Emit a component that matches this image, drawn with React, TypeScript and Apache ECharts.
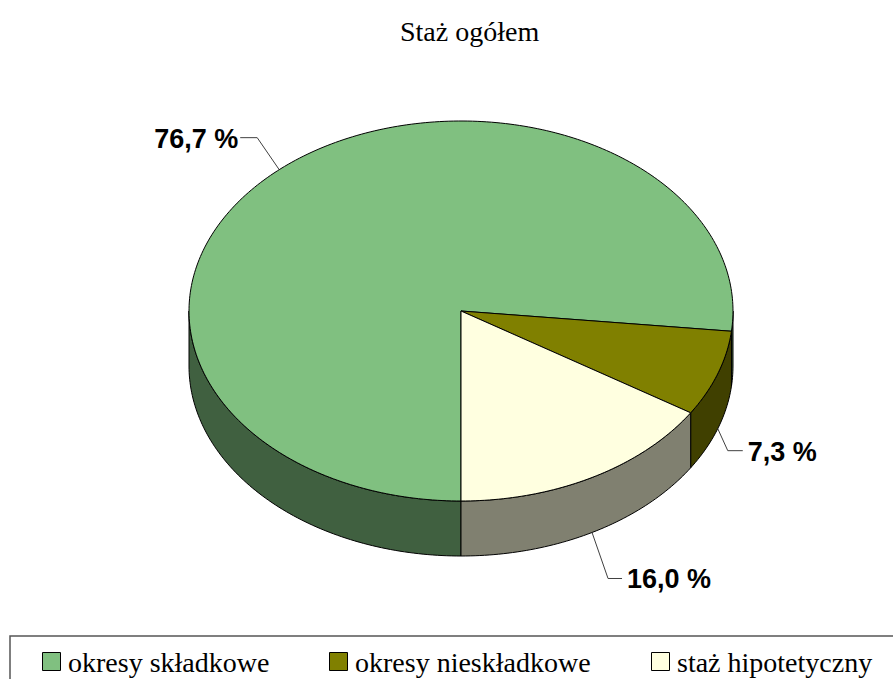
import React, { useEffect, useRef } from "react";
import * as echarts from "echarts";

const titleText = "Staż ogółem";
const categories = ["okresy składkowe", "okresy nieskładkowe", "staż hipotetyczny"];
const shares = [76.7, 7.3, 16.0];
const shareLabels = ["76,7 %", "7,3 %", "16,0 %"];

const topColors = ["#80c080", "#808000", "#ffffe0"];
const sideColors = ["#406040", "#404000", "#808070"];

const SERIF = "Liberation Serif";
const SANS = "Liberation Sans";

// layout
const CX = 461;
const CY = 311;
const RX = 272;
const RY = 190;
const DEPTH = 55;
const START_DEG = 180;
const legendIconX = [42, 329, 651];
// label leader offsets: [elbow dx, elbow dy, horizontal length]
const labelOffsets: number[][] = [
  [-22, -32, -17],
  [10, 22, 15],
  [16, 46, 14],
];

function pt(deg: number, dz: number): number[] {
  const r = (deg * Math.PI) / 180;
  return [CX + RX * Math.sin(r), CY - RY * Math.cos(r) + dz];
}

function arc(a: number, b: number, dz: number): number[][] {
  const pts: number[][] = [];
  const n = Math.max(2, Math.ceil(Math.abs(b - a)));
  for (let i = 0; i <= n; i++) pts.push(pt(a + ((b - a) * i) / n, dz));
  return pts;
}

function makeRender(idx: number) {
  return (params: any, api: any) => {
    const total = shares.reduce((s, v) => s + v, 0);
    let before = 0;
    for (let i = 0; i < idx; i++) before += shares[i];
    const v = api.value(0) as number;
    const a0 = START_DEG + (before / total) * 360;
    const a1 = a0 + (v / total) * 360;
    const children: any[] = [];
    const fronts = [
      [90, 270],
      [450, 630],
    ];
    for (const [f0, f1] of fronts) {
      const s = Math.max(a0, f0);
      const e = Math.min(a1, f1);
      if (e > s) {
        const pts = arc(s, e, 0).concat(arc(e, s, DEPTH));
        children.push({
          type: "polygon",
          shape: { points: pts },
          style: { fill: sideColors[idx], stroke: "#000", lineWidth: 1, lineJoin: "round" },
        });
      }
    }
    const top = [[CX, CY]].concat(arc(a0, a1, 0));
    children.push({
      type: "polygon",
      shape: { points: top },
      style: { fill: topColors[idx], stroke: "#000", lineWidth: 1, lineJoin: "round" },
    });
    const mid = (a0 + a1) / 2;
    const m = ((mid % 360) + 360) % 360;
    const front = m > 90 && m < 270;
    const anchor = pt(mid, front ? DEPTH : 0);
    const [dx, dy, hl] = labelOffsets[idx];
    const elbow = [anchor[0] + dx, anchor[1] + dy];
    const end = [elbow[0] + hl, elbow[1]];
    children.push({
      type: "polyline",
      shape: { points: [anchor, elbow, end] },
      style: { stroke: "#404040", lineWidth: 1, fill: "none" },
    });
    children.push({
      type: "text",
      style: {
        text: shareLabels[idx],
        x: end[0] + (hl < 0 ? -2 : 5),
        y: end[1] + 1,
        align: hl < 0 ? "right" : "left",
        verticalAlign: "middle",
        fontFamily: SANS,
        fontWeight: "bold",
        fontSize: 27,
        fill: "#000",
      },
    });
    return { type: "group", children };
  };
}

export default function App() {
  const ref = useRef<HTMLDivElement>(null);
  useEffect(() => {
    if (!ref.current) return;
    const chart = echarts.init(ref.current, null, { renderer: "svg" });
    const legendGraphics: any[] = [];
    categories.forEach((name, i) => {
      legendGraphics.push({
        type: "rect",
        shape: { x: legendIconX[i] + 0.5, y: 652.5, width: 18, height: 18 },
        style: { fill: topColors[i], stroke: "#000", lineWidth: 1 },
        silent: true,
      });
      legendGraphics.push({
        type: "text",
        x: legendIconX[i] + 26,
        y: 662,
        style: {
          text: name,
          fontFamily: SERIF,
          fontSize: 28,
          fill: "#000",
          verticalAlign: "middle",
          align: "left",
        },
        silent: true,
      });
    });
    chart.setOption({
      animation: false,
      backgroundColor: "#ffffff",
      title: {
        text: titleText,
        left: 395,
        top: 12,
        textStyle: {
          fontFamily: SERIF,
          fontWeight: "normal",
          fontSize: 28,
          color: "#000",
        },
      },
      graphic: [
        {
          type: "rect",
          shape: { x: 10, y: 636, width: 900, height: 80 },
          style: { fill: "none", stroke: "#555", lineWidth: 1.5 },
          silent: true,
        },
        ...legendGraphics,
      ],
      series: categories.map((name, i) => ({
        type: "custom",
        name,
        coordinateSystem: "none",
        itemStyle: { color: topColors[i] },
        renderItem: makeRender(i),
        data: [[shares[i]]],
      })),
    });
    return () => chart.dispose();
  }, []);
  return (
    <div
      ref={ref}
      style={{ position: "absolute", left: 0, top: 0, width: 893, height: 679 }}
    />
  );
}
